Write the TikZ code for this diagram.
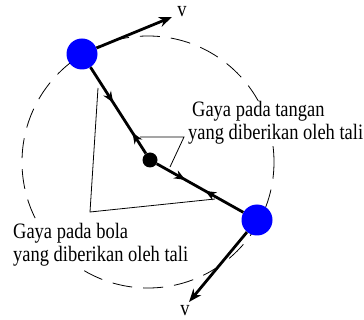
\documentclass[tikz,border=0pt]{standalone}
\usepackage{fontspec}
\setmainfont[FakeStretch=0.84]{Liberation Serif}
\usetikzlibrary{arrows.meta,decorations.markings}

\tikzset{ball/.style={circle,fill=blue,minimum size=31pt,inner sep=0pt},
  rope/.style={line width=2.8pt,postaction={decorate}},
  vel/.style={line width=2.8pt,-{Stealth[length=13pt,width=10pt]}},
  note/.style={line width=0.8pt},
  lbl/.style={font=\fontsize{22}{23}\selectfont,fill=white,inner sep=1pt,align=left},
  vlbl/.style={font=\fontsize{22}{23}\selectfont,inner sep=0pt}}

\begin{document}
\begin{tikzpicture}[x=1pt,y=-1pt]
        \useasboundingbox (0,0) rectangle (364,320);
        \draw[line width=0.8pt,dash pattern=on 20pt off 11pt] (148,162) circle [radius=126pt];
        \node[ball] (top) at (82,54) {};
        \node[ball] (bot) at (257,220) {};
        \node[circle,fill=black,minimum size=15pt,inner sep=0pt] (hand) at (150,160) {};
        \coordinate (b1) at (98,88);
        \coordinate (b2) at (90,212);
        \coordinate (b3) at (215,199);
        \coordinate (t1) at (140,137);
        \coordinate (t2) at (184,137);
        \coordinate (t3) at (170,167);
        \draw[note] (b1) -- (b2) -- (b3);
        \draw[note] (t1) -- (t2) -- (t3);
        \draw[rope,decoration={markings,
            mark=at position 0.41 with {\arrow{Stealth[length=11pt,width=9pt]}},
            mark=at position 0.76 with {\arrowreversed{Stealth[length=11pt,width=9pt]}}}] (top) -- (hand);
        \draw[rope,decoration={markings,
            mark=at position 0.33 with {\arrow{Stealth[length=11pt,width=9pt]}},
            mark=at position 0.56 with {\arrowreversed{Stealth[length=11pt,width=9pt]}}}] (hand) -- (bot);
        \coordinate (vt) at (172,17);
        \coordinate (vb) at (189,302);
        \draw[vel] (top) -- (vt);
        \draw[vel] (bot) -- (vb);
        \node[vlbl] (v1) at (182,12) {v};
        \node[vlbl] (v2) at (185,311) {v};
        \node[lbl,anchor=base west] (tangan) at (187,140) {\hspace*{4pt}Gaya pada tangan\\yang diberikan oleh tali};
        \node[lbl,anchor=base west] (bola) at (12,262) {Gaya pada bola\\yang diberikan oleh tali};
    \end{tikzpicture}
\end{document}
